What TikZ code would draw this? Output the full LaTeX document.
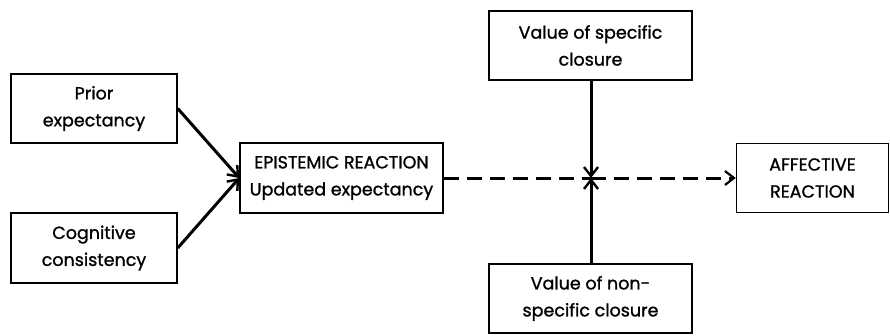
\documentclass[tikz,border=0pt]{standalone}
\usepackage{fontspec}
\setmainfont{Poppins}[FakeBold=1.2]
\usetikzlibrary{arrows.meta}
\begin{document}
\begin{tikzpicture}[x=1pt,y=1pt,
  box/.style={draw=black,line width=1.5pt,align=center,inner sep=0pt,
    font=\fontsize{17.5}{27}\selectfont},
  arr/.style={line width=3pt,-{Straight Barb[length=9pt,width=14pt,line width=2.4pt]}},
  dashline/.style={line width=3pt,dash pattern=on 15pt off 8pt},
  darr/.style={dashline,-{Straight Barb[length=9pt,width=14pt,line width=2.2pt]}}]
\useasboundingbox (0,0) rectangle (890,335);
\node[box,minimum width=166pt,minimum height=69pt] (prior) at (94,226.5) {Prior\\expectancy};
\node[box,minimum width=166pt,minimum height=70pt] (cog) at (94,87) {Cognitive\\consistency};
\node[box,minimum width=203pt,minimum height=70pt] (epi) at (341.5,157) {EPISTEMIC REACTION\\Updated expectancy};
\node[box,minimum width=203pt,minimum height=69pt] (top) at (590.5,289.5) {Value of specific\\closure};
\node[box,minimum width=203pt,minimum height=69pt] (bot) at (590.5,36.5) {Value of non-\\specific closure};
\node[box,minimum width=152pt,minimum height=69pt] (aff) at (812.5,157) {AFFECTIVE\\REACTION};
\coordinate (j) at (591,157);
\draw[arr] (prior.east) -- (epi.west);
\draw[arr] (cog.east) -- (epi.west);
\draw[arr] (top.south -| j) -- (j);
\draw[arr] (bot.north -| j) -- (j);
\draw[dashline] (epi.east) -- (j);
\draw[darr] (j) -- (aff.west);
\end{tikzpicture}
\end{document}
